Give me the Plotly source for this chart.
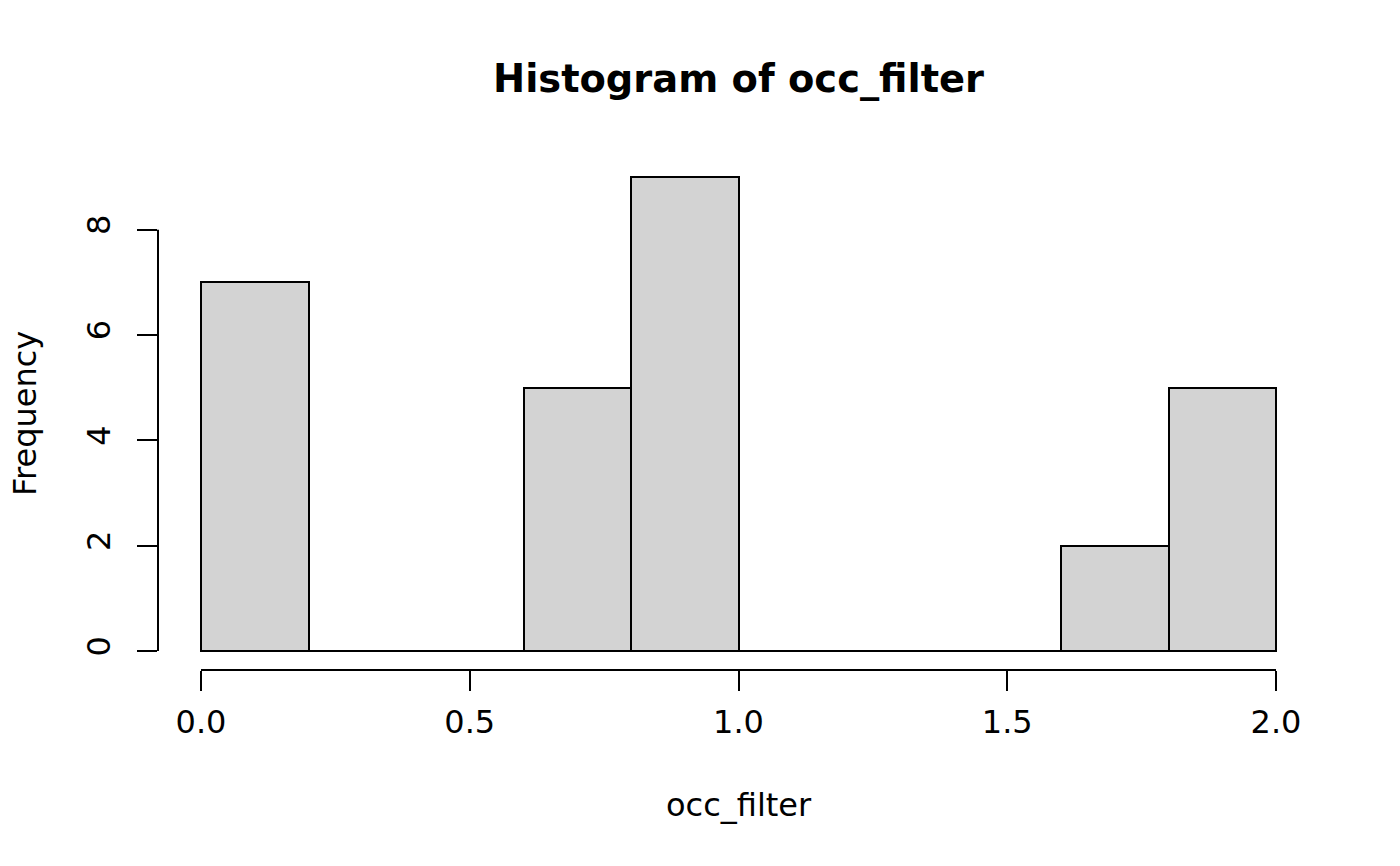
import plotly.graph_objects as go

bin_edges = [0.0, 0.2, 0.4, 0.6, 0.8, 1.0, 1.2, 1.4, 1.6, 1.8, 2.0]
counts = [7, 0, 0, 5, 9, 0, 0, 0, 2, 5]
x_ticks = [0.0, 0.5, 1.0, 1.5, 2.0]
x_tick_labels = ["0.0", "0.5", "1.0", "1.5", "2.0"]
y_ticks = [0, 2, 4, 6, 8]
y_tick_labels = ["0", "2", "4", "6", "8"]

mids = [(a + b) / 2 for a, b in zip(bin_edges[:-1], bin_edges[1:])]
widths = [b - a for a, b in zip(bin_edges[:-1], bin_edges[1:])]

FONT = "DejaVu Sans"
LW = 2

fig = go.Figure()
fig.add_trace(go.Bar(
    x=mids, y=counts, width=widths,
    marker=dict(color="#D3D3D3", line=dict(color="black", width=LW)),
    hoverinfo="skip", showlegend=False,
))

shapes = []
# zero-height bins are drawn as flat lines at 0 (as R does)
for i, c in enumerate(counts):
    if c == 0:
        shapes.append(dict(type="line", xref="x", yref="y",
                           x0=bin_edges[i], x1=bin_edges[i + 1], y0=0, y1=0,
                           line=dict(color="black", width=LW)))
# R-style axis lines spanning first to last tick
shapes.append(dict(type="line", xref="x", yref="paper",
                   x0=min(x_ticks), x1=max(x_ticks), y0=0, y1=0,
                   line=dict(color="black", width=LW)))
shapes.append(dict(type="line", xref="paper", yref="y",
                   x0=0, x1=0, y0=min(y_ticks), y1=max(y_ticks),
                   line=dict(color="black", width=LW)))

xr = [bin_edges[0] - 0.04 * (bin_edges[-1] - bin_edges[0]),
      bin_edges[-1] + 0.04 * (bin_edges[-1] - bin_edges[0])]
ymax = 9
yr = [-0.04 * ymax, ymax * 1.04]

fig.update_layout(
    width=1400, height=866,
    margin=dict(l=150, r=89, t=150, b=204, pad=0),
    paper_bgcolor="white", plot_bgcolor="white",
    font=dict(family=FONT, size=32, color="black"),
    bargap=0,
    shapes=shapes,
    xaxis=dict(range=xr, tickvals=x_ticks, ticktext=x_tick_labels,
               ticks="outside", ticklen=20, tickwidth=LW, tickcolor="black",
               showgrid=False, zeroline=False, showline=False,
               tickfont=dict(size=32), ticklabelstandoff=4),
    yaxis=dict(range=yr, tickvals=y_ticks, ticktext=y_tick_labels,
               ticks="outside", ticklen=20, tickwidth=LW, tickcolor="black",
               showgrid=False, zeroline=False, showline=False,
               tickangle=-90, tickfont=dict(size=32), ticklabelstandoff=14),
    annotations=[
        dict(text="<b>Histogram of occ_filter</b>", xref="paper", yref="paper",
             x=0.5, y=1, yshift=80, xanchor="center", yanchor="middle",
             showarrow=False, font=dict(size=38.4, family=FONT)),
        dict(text="occ_filter", xref="paper", yref="paper",
             x=0.5, y=0, yshift=-135, xanchor="center", yanchor="middle",
             showarrow=False, font=dict(size=32, family=FONT)),
        dict(text="Frequency", xref="paper", yref="paper",
             x=0, y=0.5, xshift=-133, xanchor="center", yanchor="middle",
             textangle=-90, showarrow=False, font=dict(size=32, family=FONT)),
    ],
)

fig.write_html("out.html")
